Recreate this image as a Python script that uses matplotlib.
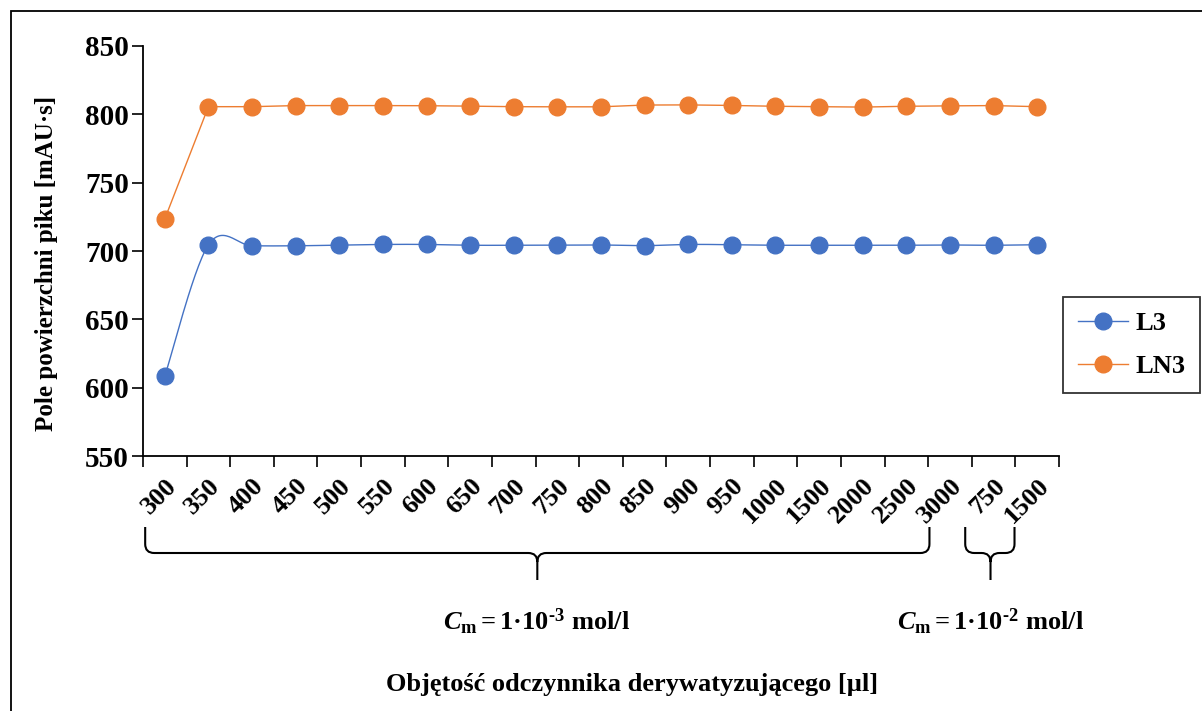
import numpy as np
import matplotlib
matplotlib.use("Agg")
import matplotlib.pyplot as plt
from matplotlib.path import Path
from matplotlib.patches import PathPatch
from matplotlib.lines import Line2D
import matplotlib.transforms as mtransforms

plt.rcParams['font.family'] = ['Liberation Serif', 'DejaVu Serif']
plt.rcParams['font.weight'] = 'bold'
plt.rcParams['mathtext.fontset'] = 'custom'
plt.rcParams['mathtext.rm'] = 'Liberation Serif:bold'
plt.rcParams['mathtext.bf'] = 'Liberation Serif:bold'
plt.rcParams['mathtext.it'] = 'Liberation Serif:bold:italic'

categories = ['300', '350', '400', '450', '500', '550', '600', '650', '700', '750',
              '800', '850', '900', '950', '1000', '1500', '2000', '2500', '3000',
              '750', '1500']
L3 = [608.5, 704.5, 703.8, 703.8, 704.3, 704.8, 704.8, 704.2, 704.2, 704.2,
      704.4, 703.9, 704.8, 704.6, 704.2, 704.2, 704.2, 704.2, 704.4, 704.2, 704.6]
LN3 = [723.5, 805.6, 805.6, 806.4, 806.4, 806.4, 806.3, 806.0, 805.6, 805.5,
       805.5, 806.8, 806.9, 806.5, 805.9, 805.6, 805.3, 805.9, 806.2, 806.4, 805.6]
yticks = [550, 600, 650, 700, 750, 800, 850]

BLUE = '#4472C4'
ORANGE = '#ED7D31'

W, H = 1202, 711
fig = plt.figure(figsize=(W / 100, H / 100), dpi=100)
ax = fig.add_axes([143 / W, 1 - 456 / H, (1059 - 143) / W, (456 - 46) / H])

n = len(categories)
x = np.arange(n)
ax.set_xlim(-0.5, n - 0.5)
ax.set_ylim(550, 850)


def excel_smooth(xs, ys, steps=30):
    pts = ax.transData.transform(np.column_stack([xs, ys]))
    out = [pts[0]]
    m = len(pts)
    for i in range(m - 1):
        p0 = pts[max(i - 1, 0)]
        p1 = pts[i]
        p2 = pts[i + 1]
        p3 = pts[min(i + 2, m - 1)]
        c1 = p1 + (p2 - p0) / 6.0
        c2 = p2 - (p3 - p1) / 6.0
        t = np.linspace(0, 1, steps)[1:, None]
        seg = ((1 - t) ** 3) * p1 + 3 * ((1 - t) ** 2) * t * c1 + 3 * (1 - t) * t ** 2 * c2 + t ** 3 * p2
        out.extend(seg)
    out = np.array(out)
    return ax.transData.inverted().transform(out)


sm = excel_smooth(x, L3)
ax.plot(sm[:, 0], sm[:, 1], color=BLUE, lw=1.0, zorder=2)
ax.plot(x, L3, ls='none', marker='o', ms=12, color=BLUE, zorder=3)
ax.plot(x, LN3, color=ORANGE, lw=1.0, marker='o', ms=12, zorder=3)

ax.set_yticks(yticks)
ax.set_yticklabels([str(v) for v in yticks], fontsize=21, fontweight='bold')
ax.set_xticks(np.arange(n + 1) - 0.5, minor=False)
ax.set_xticklabels([])
ax.set_xticks(x, minor=True)
ax.set_xticklabels(categories, minor=True, rotation=45, ha='right', va='top',
                   rotation_mode='anchor', fontsize=19, fontweight='bold')
ax.tick_params(axis='x', which='minor', length=0, pad=13)
ax.tick_params(axis='x', which='major', length=8, width=1.2, direction='out')
ax.tick_params(axis='y', length=8, width=1.2, direction='out', pad=2)
for s in ['top', 'right']:
    ax.spines[s].set_visible(False)
for s in ['left', 'bottom']:
    ax.spines[s].set_linewidth(1.3)

# braces below tick labels
bt = mtransforms.blended_transform_factory(ax.transData, fig.transFigure)
dx_px = (1059 - 143) / n


def brace(x0, x1, xm):
    ytop = 1 - 527 / H
    yh = 1 - 553 / H
    ybot = 1 - 580 / H
    rx = 9 / dx_px
    ry = 9 / H
    verts = [(x0, ytop), (x0, yh + ry), (x0, yh), (x0 + rx, yh),
             (xm - rx, yh), (xm, yh), (xm, yh - ry), (xm, ybot),
             (xm, yh - ry), (xm, yh), (xm + rx, yh),
             (x1 - rx, yh), (x1, yh), (x1, yh + ry), (x1, ytop)]
    codes = [Path.MOVETO, Path.LINETO, Path.CURVE3, Path.CURVE3,
             Path.LINETO, Path.CURVE3, Path.CURVE3, Path.LINETO,
             Path.MOVETO, Path.CURVE3, Path.CURVE3,
             Path.LINETO, Path.CURVE3, Path.CURVE3, Path.LINETO]
    p = PathPatch(Path(verts, codes), transform=bt, fill=False, lw=1.5,
                  edgecolor='black', clip_on=False)
    fig.add_artist(p)


brace(-0.45, 17.53, 8.54)
brace(18.35, 19.48, 18.93)

fig.text(536 / W, 1 - 622 / H, r'$C_\mathrm{m}\mathrm{ = 1·10^{‐3}\ mol/l}$',
         ha='center', va='center', fontsize=19)
fig.text(990 / W, 1 - 622 / H, r'$C_\mathrm{m}\mathrm{ = 1·10^{‐2}\ mol/l}$',
         ha='center', va='center', fontsize=19)

fig.text(632 / W, 1 - 684 / H, 'Objętość odczynnika derywatyzującego [µl]',
         ha='center', va='center', fontsize=19, fontweight='bold')
fig.text(47 / W, 1 - 263 / H, 'Pole powierzchni piku [mAU·s]', rotation=90,
         ha='center', va='center', fontsize=18, fontweight='bold')

handles = [Line2D([], [], color=BLUE, lw=1.0, marker='o', ms=12),
           Line2D([], [], color=ORANGE, lw=1.0, marker='o', ms=12)]
leg = fig.legend(handles, ['L3', 'LN3'], loc='upper left',
                 bbox_to_anchor=(1063 / W, 1 - 297 / H),
                 prop={'family': 'Liberation Serif', 'weight': 'bold', 'size': 19},
                 frameon=True, fancybox=False, edgecolor='black',
                 handlelength=1.9, handletextpad=0.3, labelspacing=0.75,
                 borderpad=0.55, borderaxespad=0)
leg.get_frame().set_linewidth(1.3)

# outer frame (left and top edges only)
fr = Path([(11 / W, 0), (11 / W, 1 - 11 / H), (1.0, 1 - 11 / H)])
fig.add_artist(PathPatch(fr, transform=fig.transFigure, fill=False, lw=1.3,
                         edgecolor='black'))

fig.savefig('out.png', dpi=100)
